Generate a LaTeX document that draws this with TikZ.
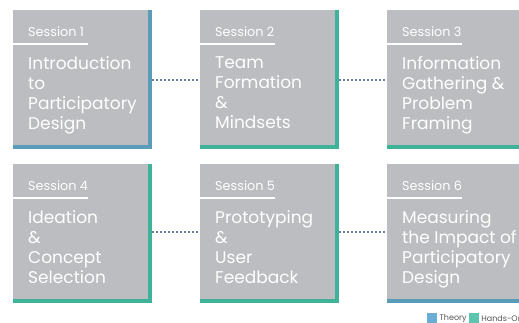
\documentclass[tikz,border=0pt]{standalone}
\usepackage{fontspec}
\setmainfont{Poppins}
\usetikzlibrary{positioning}
\definecolor{boxgray}{HTML}{BCBDC0}
\definecolor{theory}{HTML}{5A9CB8}
\definecolor{handson}{HTML}{3FB39A}
\definecolor{dots}{HTML}{6A7B9E}
\definecolor{theorykey}{HTML}{6AAED6}
\definecolor{handskey}{HTML}{5CC5B0}
\definecolor{keytext}{HTML}{555555}

\begin{document}
\begin{tikzpicture}[x=1pt,y=-1pt,
	session/.style={minimum width=139pt,minimum height=139pt,inner sep=0pt,outer sep=0pt,
		path picture={\fill[boxgray] (path picture bounding box.north west) rectangle ([shift={(-4pt,4pt)}]path picture bounding box.south east);}},
	number/.style={anchor=base west,text=white,font=\fontsize{12.8}{14}\selectfont,inner sep=0pt},
	title/.style={anchor=north west,text=white,align=left,font=\fontsize{17}{20}\selectfont,inner sep=0pt},
	underline/.style={white,line width=1.5pt},
	link/.style={dots,line width=2pt,dash pattern=on 1.8pt off 2.2pt},
	key/.style={minimum size=10pt,inner sep=0pt},
	keylabel/.style={font=\fontsize{8}{9}\selectfont,text=keytext,inner sep=0pt}]
	\clip (0,0) rectangle (519,322);
	\fill[white] (0,0) rectangle (519,322);

	% the six sessions
	\node (s1) [session,fill=theory] at (82.5,79.5) {};
	\node (s2) [session,fill=handson,right=48pt of s1] {};
	\node (s3) [session,fill=handson,right=48pt of s2] {};
	\node (s4) [session,fill=handson,below=15pt of s1] {};
	\node (s5) [session,fill=handson,right=48pt of s4] {};
	\node (s6) [session,fill=theory,right=48pt of s5] {};

	\node (n1) [number] at ([shift={(15pt,-26pt)}]s1.north west) {Session 1};
	\node (n2) [number] at ([shift={(15pt,-26pt)}]s2.north west) {Session 2};
	\node (n3) [number] at ([shift={(15pt,-26pt)}]s3.north west) {Session 3};
	\node (n4) [number] at ([shift={(15pt,-26pt)}]s4.north west) {Session 4};
	\node (n5) [number] at ([shift={(15pt,-26pt)}]s5.north west) {Session 5};
	\node (n6) [number] at ([shift={(15pt,-26pt)}]s6.north west) {Session 6};

	\draw [underline] ([yshift=-34pt]s1.north west) -- ++(75,0);
	\draw [underline] ([yshift=-34pt]s2.north west) -- ++(75,0);
	\draw [underline] ([yshift=-34pt]s3.north west) -- ++(75,0);
	\draw [underline] ([yshift=-34pt]s4.north west) -- ++(75,0);
	\draw [underline] ([yshift=-34pt]s5.north west) -- ++(75,0);
	\draw [underline] ([yshift=-34pt]s6.north west) -- ++(75,0);

	\node (t1) [title] at ([shift={(15pt,-46pt)}]s1.north west) {Introduction\\to\\Participatory\\Design};
	\node (t2) [title] at ([shift={(15pt,-46pt)}]s2.north west) {Team\\Formation\\\&\\Mindsets};
	\node (t3) [title] at ([shift={(15pt,-46pt)}]s3.north west) {Information\\Gathering \&\\Problem\\Framing};
	\node (t4) [title] at ([shift={(15pt,-46pt)}]s4.north west) {Ideation\\\&\\Concept\\Selection};
	\node (t5) [title] at ([shift={(15pt,-46pt)}]s5.north west) {Prototyping\\\&\\User\\Feedback};
	\node (t6) [title] at ([shift={(15pt,-46pt)}]s6.north west) {Measuring\\the Impact of\\Participatory\\Design};

	% dotted links
	\draw [link] (s1.east) -- (s2.west);
	\draw [link] (s2.east) -- (s3.west);
	\draw [link] ([yshift=2pt]s4.east) -- ([yshift=2pt]s5.west);
	\draw [link] ([yshift=2pt]s5.east) -- ([yshift=2pt]s6.west);

	% key
	\node (theorykey) [key,fill=theorykey,anchor=north west] at (427,313) {};
	\node (theorytext) [keylabel,right=2pt of theorykey] {Theory};
	\node (handskey) [key,fill=handskey,right=2pt of theorytext] {};
	\node (handstext) [keylabel,right=2pt of handskey] {Hands-On};
\end{tikzpicture}
\end{document}
